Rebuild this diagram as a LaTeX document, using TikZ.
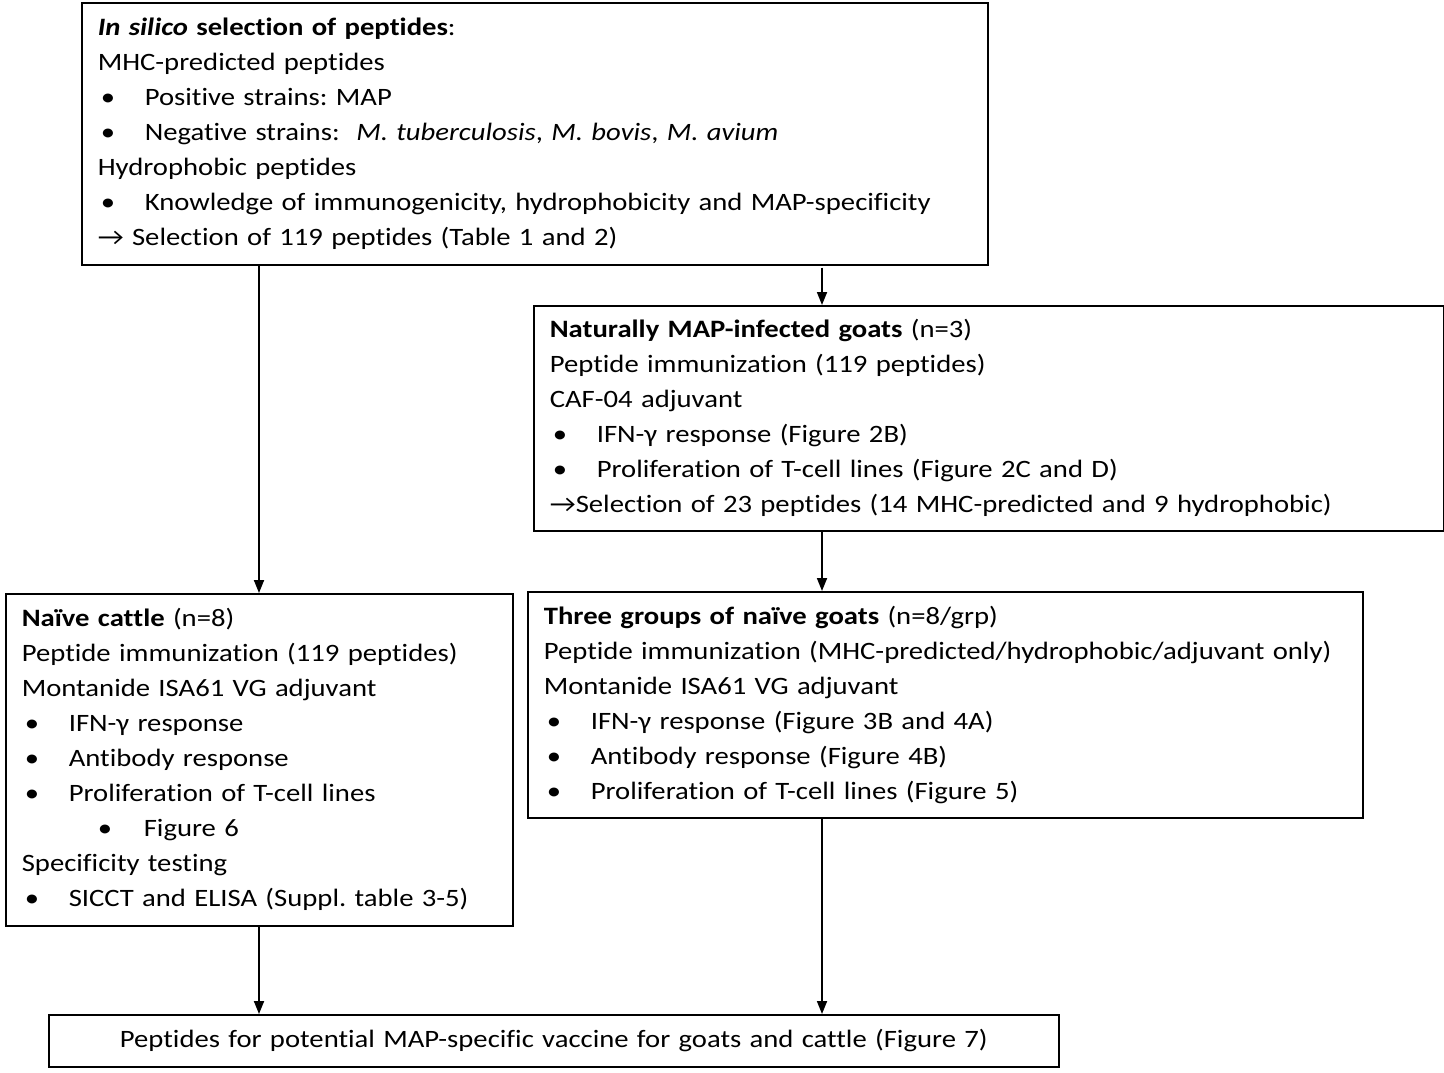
\documentclass[tikz,border=0pt]{standalone}
\usepackage{fontspec}
\setmainfont{Carlito}[FakeStretch=1.147,Ligatures=NoCommon]
\usepackage{tikz}
\usetikzlibrary{arrows.meta,calc}
\definecolor{rand}{HTML}{000000}
\newcommand{\pt}{\makebox[23.5pt][l]{\hspace*{1.5pt}\textbullet}}
\newcommand{\subpt}{\hspace*{38pt}\makebox[23pt][l]{\textbullet}}
\frenchspacing
\tikzset{
  stage/.style={draw=rand,line width=0.8pt,anchor=north west,align=left,inner xsep=8pt,inner ysep=0pt,
    font=\fontsize{12.5}{17.5}\selectfont},
  flow/.style={-{Triangle[length=6.5pt,width=5pt]},rand,line width=0.9pt},
}
\begin{document}
\begin{tikzpicture}[x=0.5pt,y=-0.5pt]
  \useasboundingbox (0,0) rectangle (1444,1072);
  \coordinate (lx) at (259,0);
  \coordinate (rx) at (822,0);
  \node[stage,text width=437pt,minimum height=131pt] (sel) at (81,2) {%
    \textbf{\textit{In silico} selection of peptides}:\\
    MHC-predicted peptides\\
    \pt Positive strains: MAP\\
    \pt Negative strains:\ \ \textit{M. tuberculosis}, \textit{M. bovis}, \textit{M. avium}\\
    Hydrophobic peptides\\
    \pt Knowledge of immunogenicity, hydrophobicity and MAP-specificity\\
    → Selection of 119 peptides (Table 1 and 2)};
  \node[stage,text width=439pt,minimum height=112.5pt] (infgoats) at (533,305) {%
    \textbf{Naturally MAP-infected goats} (n=3)\\
    Peptide immunization (119 peptides)\\
    CAF-04 adjuvant\\
    \pt IFN-γ response (Figure 2B)\\
    \pt Proliferation of T-cell lines (Figure 2C and D)\\
    →Selection of 23 peptides (14 MHC-predicted and 9 hydrophobic)};
  \node[stage,text width=237.5pt,minimum height=166pt] (cattle) at (5,593) {%
    \textbf{Naïve cattle} (n=8)\\
    Peptide immunization (119 peptides)\\
    Montanide ISA61 VG adjuvant\\
    \pt IFN-γ response\\
    \pt Antibody response\\
    \pt Proliferation of T-cell lines\\
    \subpt Figure 6\\
    Specificity testing\\
    \pt SICCT and ELISA (Suppl. table 3-5)};
  \node[stage,text width=401.5pt,minimum height=113pt] (naivegoats) at (527,591) {%
    \textbf{Three groups of naïve goats} (n=8/grp)\\
    Peptide immunization (MHC-predicted/hydrophobic/adjuvant only)\\
    Montanide ISA61 VG adjuvant\\
    \pt IFN-γ response (Figure 3B and 4A)\\
    \pt Antibody response (Figure 4B)\\
    \pt Proliferation of T-cell lines (Figure 5)};
  \node[stage,align=center,text width=489pt,minimum height=26pt] (vaccine) at (48,1014)
    {Peptides for potential MAP-specific vaccine for goats and cattle (Figure 7)};
  \draw[flow] (sel.south -| lx) -- (cattle.north -| lx);
  \draw[flow] ($(sel.south -| rx)+(0,2)$) -- (infgoats.north -| rx);
  \draw[flow] (infgoats.south -| rx) -- (naivegoats.north -| rx);
  \draw[flow] (cattle.south -| lx) -- (vaccine.north -| lx);
  \draw[flow] (naivegoats.south -| rx) -- (vaccine.north -| rx);
\end{tikzpicture}
\end{document}
